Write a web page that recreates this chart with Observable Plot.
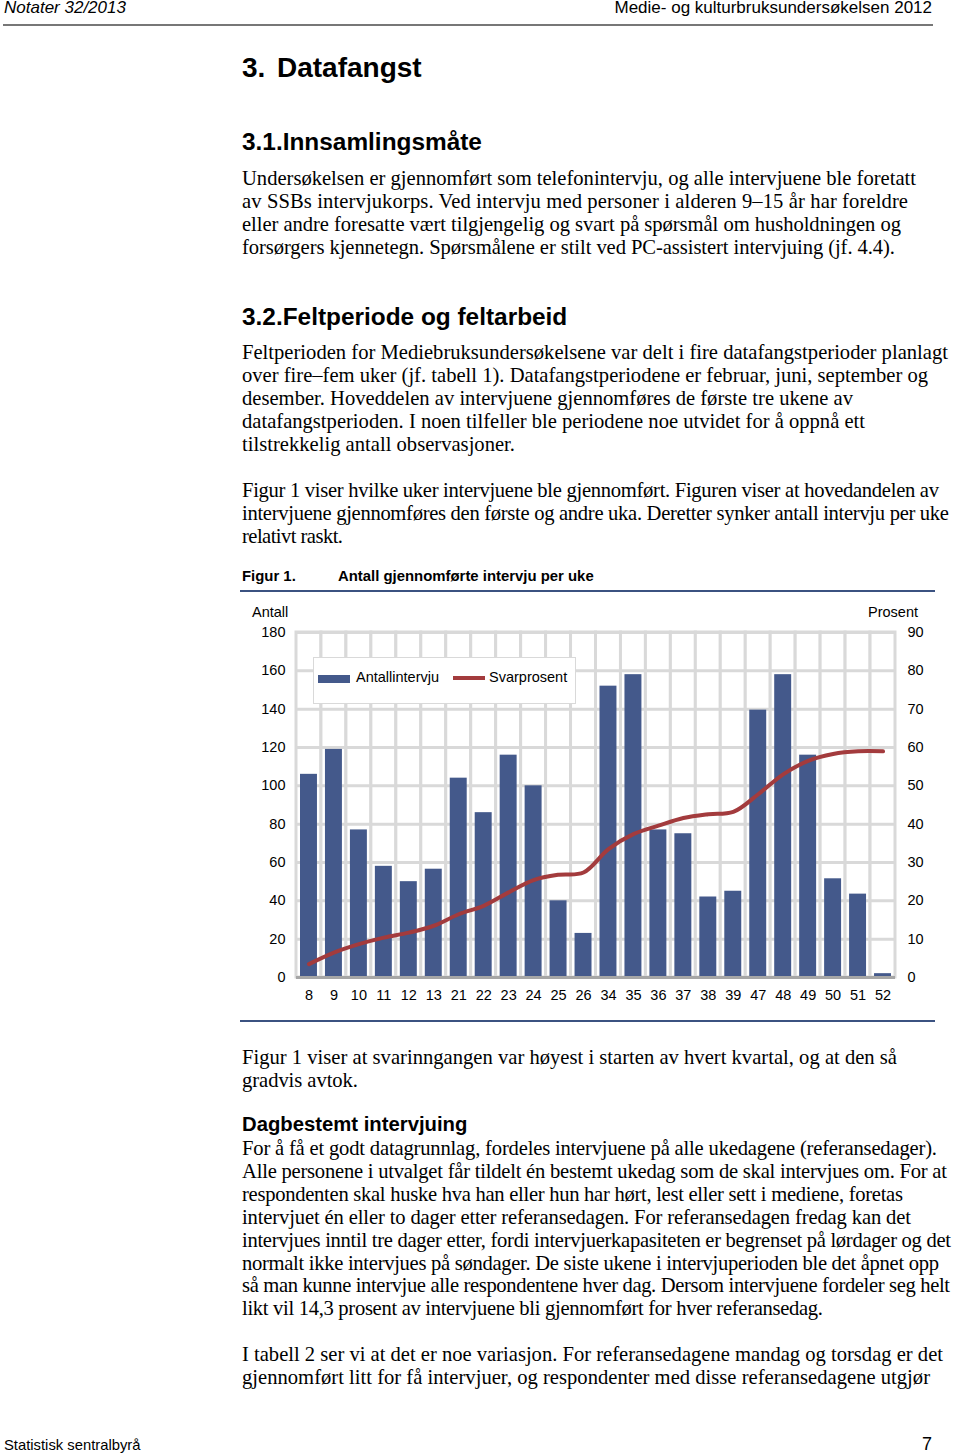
<!DOCTYPE html>
<html><head><meta charset="utf-8">
<script src="https://cdn.jsdelivr.net/npm/d3@7"></script>
<script src="https://cdn.jsdelivr.net/npm/@observablehq/plot@0.6"></script>
<style>
html,body{margin:0;padding:0;background:#fff;}
body{width:960px;height:1456px;position:relative;overflow:hidden;color:#000;}
.abs{position:absolute;white-space:nowrap;}
.serif{font-family:"Liberation Serif","Times New Roman",serif;font-size:20.6px;line-height:22.9px;}
.serif > div{display:block;}
.serif > div > span{display:inline-block;}
.h1{font-family:"Liberation Sans",Arial,sans-serif;font-weight:bold;font-size:28px;}
.h2{font-family:"Liberation Sans",Arial,sans-serif;font-weight:bold;font-size:24.4px;}
.narrow{font-family:"Liberation Sans Narrow","Arial Narrow","Liberation Sans",sans-serif;font-size:17px;}
.sans{font-family:"Liberation Sans",Arial,sans-serif;}
</style></head>
<body>
<div class="abs narrow" style="left:4px;top:-2px;font-style:italic;">Notater 32/2013</div>
<div class="abs narrow" style="right:28px;top:-2px;">Medie- og kulturbruksundersøkelsen 2012</div>
<div class="abs" style="left:3px;top:24px;width:930px;height:2px;background:#777;"></div>

<div class="abs h1" style="left:242px;top:52px;">3.</div>
<div class="abs h1" style="left:277px;top:52px;">Datafangst</div>
<div class="abs h2" style="left:242px;top:128px;">3.1.Innsamlingsmåte</div>
<div class="abs serif" style="left:242px;top:167px;">
<div data-end="916"><span>Undersøkelsen er gjennomført som telefonintervju, og alle intervjuene ble foretatt</span></div>
<div data-end="908"><span>av SSBs intervjukorps. Ved intervju med personer i alderen 9–15 år har foreldre</span></div>
<div data-end="901"><span>eller andre foresatte vært tilgjengelig og svart på spørsmål om husholdningen og</span></div>
<div data-end="895"><span>forsørgers kjennetegn. Spørsmålene er stilt ved PC-assistert intervjuing (jf. 4.4).</span></div>
</div>

<div class="abs h2" style="left:242px;top:303px;">3.2.Feltperiode og feltarbeid</div>
<div class="abs serif" style="left:242px;top:341px;">
<div data-end="948"><span>Feltperioden for Mediebruksundersøkelsene var delt i fire datafangstperioder planlagt</span></div>
<div data-end="928"><span>over fire–fem uker (jf. tabell 1). Datafangstperiodene er februar, juni, september og</span></div>
<div data-end="853"><span>desember. Hoveddelen av intervjuene gjennomføres de første tre ukene av</span></div>
<div data-end="865"><span>datafangstperioden. I noen tilfeller ble periodene noe utvidet for å oppnå ett</span></div>
<div data-end="515"><span>tilstrekkelig antall observasjoner.</span></div>
</div>
<div class="abs serif" style="left:242px;top:479px;">
<div data-end="939"><span>Figur 1 viser hvilke uker intervjuene ble gjennomført. Figuren viser at hovedandelen av</span></div>
<div data-end="949"><span>intervjuene gjennomføres den første og andre uka. Deretter synker antall intervju per uke</span></div>
<div data-end="343"><span>relativt raskt.</span></div>
</div>

<div class="abs sans" style="left:242px;top:568px;font-size:14.9px;font-weight:bold;">Figur 1.</div>
<div class="abs sans" style="left:338px;top:568px;font-size:14.9px;font-weight:bold;">Antall gjennomførte intervju per uke</div>
<div class="abs" style="left:240px;top:590px;width:695px;height:2px;background:#3b5281;"></div>

<div class="abs sans" style="left:252px;top:604px;font-size:14.5px;">Antall</div>
<div class="abs sans" style="right:42px;top:604px;font-size:14.5px;">Prosent</div>
<div id="chart" class="abs" style="left:240px;top:598px;"></div>
<div class="abs" style="left:313px;top:657px;width:261px;height:45px;border:1px solid #d9d9d9;background:#fff;"></div>
<div class="abs" style="left:318px;top:675px;width:32px;height:8px;background:#44598b;"></div>
<div class="abs sans" style="left:356px;top:669px;font-size:14.5px;">Antallintervju</div>
<div class="abs" style="left:453px;top:676px;width:32px;height:4px;background:#a33b3d;"></div>
<div class="abs sans" style="left:489px;top:669px;font-size:14.5px;">Svarprosent</div>

<div class="abs" style="left:240px;top:1020px;width:695px;height:2px;background:#3b5281;"></div>

<div class="abs serif" style="left:242px;top:1046px;">
<div data-end="897"><span>Figur 1 viser at svarinngangen var høyest i starten av hvert kvartal, og at den så</span></div>
<div data-end="358"><span>gradvis avtok.</span></div>
</div>
<div class="abs sans" style="left:242px;top:1113px;font-size:20.3px;font-weight:bold;">Dagbestemt intervjuing</div>
<div class="abs serif" style="left:242px;top:1137px;">
<div data-end="937"><span>For å få et godt datagrunnlag, fordeles intervjuene på alle ukedagene (referansedager).</span></div>
<div data-end="947"><span>Alle personene i utvalget får tildelt én bestemt ukedag som de skal intervjues om. For at</span></div>
<div data-end="903"><span>respondenten skal huske hva han eller hun har hørt, lest eller sett i mediene, foretas</span></div>
<div data-end="911"><span>intervjuet én eller to dager etter referansedagen. For referansedagen fredag kan det</span></div>
<div data-end="951"><span>intervjues inntil tre dager etter, fordi intervjuerkapasiteten er begrenset på lørdager og det</span></div>
<div data-end="939"><span>normalt ikke intervjues på søndager. De siste ukene i intervjuperioden ble det åpnet opp</span></div>
<div data-end="950"><span>så man kunne intervjue alle respondentene hver dag. Dersom intervjuene fordeler seg helt</span></div>
<div data-end="823"><span>likt vil 14,3 prosent av intervjuene bli gjennomført for hver referansedag.</span></div>
</div>
<div class="abs serif" style="left:242px;top:1343px;">
<div data-end="943"><span>I tabell 2 ser vi at det er noe variasjon. For referansedagene mandag og torsdag er det</span></div>
<div data-end="930"><span>gjennomført litt for få intervjuer, og respondenter med disse referansedagene utgjør</span></div>
</div>

<div class="abs narrow" style="left:4px;top:1437px;font-size:14.8px;">Statistisk sentralbyrå</div>
<div class="abs narrow" style="left:922px;top:1434px;font-size:18px;">7</div>

<script>
const weeks = ["8","9","10","11","12","13","21","22","23","24","25","26","34","35","36","37","38","39","47","48","49","50","51","52"];
const antall = [106,119,77,58,50,56.5,104,86,116,100,40,23,152,158,77,75,42,45,139.5,158,116,51.5,43.5,2];
const svarprosent = [3.5,6.5,8.7,10.4,11.7,13.5,16.5,18.7,22.2,25.4,26.8,27.4,33.5,37.4,39.6,41.6,42.6,43.2,47.8,53,56.5,58.3,59,59];
const leftTicks = [0,20,40,60,80,100,120,140,160,180];

const data = weeks.map((w,i)=>({week:w, antall:antall[i], pct:svarprosent[i]}));
const barColor = "#44598b", lineColor = "#a33b3d", grid = "#d9d9d9";

const chart = Plot.plot({
  width: 695, height: 420,
  marginLeft: 56, marginRight: 40, marginTop: 34, marginBottom: 41,
  style: {fontFamily: "Liberation Sans, Arial, sans-serif", fontSize: "14.5px", color: "#000", background: "transparent", overflow: "visible"},
  x: {domain: weeks, padding: 0, round: false, label: null},
  y: {domain: [0,180], label: null},
  marks: [
    Plot.barY(weeks, {x: d=>d, y1: 0, y2: 180, fill: "white", stroke: grid, strokeWidth: 3}),
    Plot.ruleY(leftTicks, {stroke: grid, strokeWidth: 3}),
    Plot.barY(data, {x: "week", y: "antall", fill: barColor, insetLeft: 4, insetRight: 4}),
    Plot.ruleY([0], {stroke: "#a6a6a6", strokeWidth: 3}),
    Plot.line(data, {x: "week", y: d=>d.pct*2, stroke: lineColor, strokeWidth: 4, curve: "catmull-rom"}),
    Plot.axisY(leftTicks, {anchor: "left", tickSize: 0, tickPadding: 11, label: null}),
    Plot.axisY(leftTicks, {anchor: "right", tickSize: 0, tickPadding: 12, tickFormat: d=>d/2, label: null}),
    Plot.axisX({anchor: "bottom", tickSize: 0, tickPadding: 12, label: null})
  ]
});
document.getElementById("chart").appendChild(chart);

// fit each text line to the reference line length
function fitLines() {
  document.querySelectorAll(".serif > div[data-end]").forEach(div => {
    const span = div.firstElementChild;
    span.style.letterSpacing = "0px";
    const r = span.getBoundingClientRect();
    const target = +div.dataset.end;
    const n = span.textContent.length;
    if (n > 1) span.style.letterSpacing = ((target - r.right) / (n - 1)) + "px";
  });
}
fitLines();
if (document.fonts && document.fonts.ready) document.fonts.ready.then(fitLines);
</script>
</body></html>
